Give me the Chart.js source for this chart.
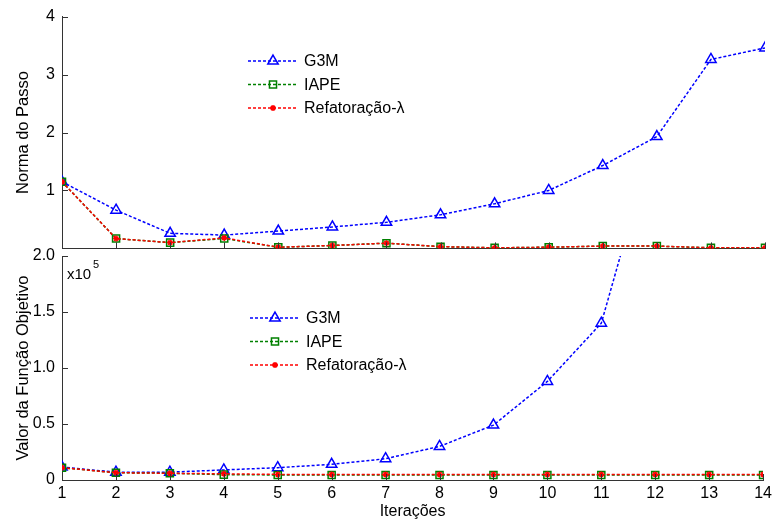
<!DOCTYPE html>
<html>
<head>
<meta charset="utf-8">
<script src="https://cdn.jsdelivr.net/npm/chart.js@4"></script>
<style>
  html, body { margin: 0; padding: 0; background: #fff; }
  #wrap { position: relative; width: 776px; height: 521px; overflow: hidden; }
  .box { position: absolute; left: 0; width: 776px; }
  #topBox { top: 0; height: 265px; }
  #botBox { top: 236px; height: 285px; }
</style>
</head>
<body>
<div id="wrap">
  <div class="box" id="topBox"><canvas id="topChart"></canvas></div>
  <div class="box" id="botBox"><canvas id="botChart"></canvas></div>
</div>
<script>
// iterations 1..14
const iteracoes = [1, 2, 3, 4, 5, 6, 7, 8, 9, 10, 11, 12, 13, 14];

// Norma do Passo
const passoG3M  = [1.15, 0.66, 0.26, 0.23, 0.30, 0.37, 0.45, 0.58, 0.77, 1.00, 1.43, 1.93, 3.26, 3.46];
const passoIAPE = [1.15, 0.17, 0.10, 0.17, 0.02, 0.05, 0.09, 0.03, 0.01, 0.02, 0.04, 0.04, 0.01, 0.01];
const passoRef  = [1.15, 0.17, 0.10, 0.18, 0.02, 0.05, 0.09, 0.03, 0.01, 0.02, 0.04, 0.04, 0.01, 0.01];

// Valor da Função Objetivo (x10^5)
const funcG3M  = [0.115, 0.07, 0.07, 0.09, 0.11, 0.14, 0.19, 0.30, 0.49, 0.88, 1.40, 3.10, 5.5, 7.0];
const funcIAPE = [0.11, 0.065, 0.06, 0.048, 0.045, 0.045, 0.045, 0.045, 0.045, 0.045, 0.045, 0.045, 0.045, 0.045];
const funcRef  = [0.11, 0.065, 0.06, 0.055, 0.05, 0.05, 0.05, 0.05, 0.05, 0.05, 0.05, 0.05, 0.05, 0.05];

const seriesNames = ['G3M', 'IAPE', 'Refatoração-λ'];
const FONT = "'Liberation Sans', Arial, sans-serif";
const AXIS = '#333333';

Chart.defaults.font.family = FONT;
Chart.defaults.color = '#000';
Chart.defaults.animation = false;

function toXY(vals) {
  return vals.map((v, i) => ({ x: iteracoes[i], y: v }));
}

function makeSets(g3m, iape, ref) {
  const common = { borderWidth: 1.5, borderDash: [3, 2], pointBorderWidth: 1.5, fill: false, tension: 0 };
  return [
    Object.assign({}, common, {
      label: seriesNames[0], data: toXY(g3m), borderColor: '#0000ff',
      pointStyle: 'triangle', pointRadius: 6, pointBackgroundColor: 'rgba(0,0,0,0)', pointBorderColor: '#0000ff', order: 3
    }),
    Object.assign({}, common, {
      label: seriesNames[1], data: toXY(iape), borderColor: '#008000',
      pointStyle: 'rect', pointRadius: 5, pointBackgroundColor: 'rgba(0,0,0,0)', pointBorderColor: '#008000', order: 2
    }),
    Object.assign({}, common, {
      label: seriesNames[2], data: toXY(ref), borderColor: '#ff0000',
      pointStyle: 'star', pointRadius: 3, pointBackgroundColor: '#ff0000', pointBorderColor: '#ff0000', order: 1
    })
  ];
}

// short tick marks pointing into the plot area (MATLAB style)
const innerTicks = {
  id: 'innerTicks',
  afterDraw(chart) {
    const { ctx, chartArea: a, scales } = chart;
    ctx.save();
    ctx.strokeStyle = AXIS;
    ctx.lineWidth = 1;
    ctx.beginPath();
    scales.x.ticks.forEach(t => {
      const px = Math.round(scales.x.getPixelForValue(t.value)) + 0.5;
      ctx.moveTo(px, a.bottom);
      ctx.lineTo(px, a.bottom - 6);
    });
    scales.y.ticks.forEach(t => {
      const py = Math.round(scales.y.getPixelForValue(t.value)) + 0.5;
      ctx.moveTo(a.left, py);
      ctx.lineTo(a.left + 6, py);
    });
    ctx.stroke();
    ctx.restore();
  }
};

// legend box drawn inside the plot area
const floatLegend = {
  id: 'floatLegend',
  afterDraw(chart, args, opts) {
    const { ctx } = chart;
    ctx.save();
    chart.data.datasets.forEach((ds, i) => {
      const y = opts.y + i * opts.gap;
      const x0 = opts.x, x1 = opts.x + 50;
      ctx.strokeStyle = ds.borderColor;
      ctx.lineWidth = 1.5;
      ctx.setLineDash([3, 2]);
      ctx.beginPath();
      ctx.moveTo(x0, y);
      ctx.lineTo(x1, y);
      ctx.stroke();
      ctx.setLineDash([]);
      const r = ds.pointStyle === 'triangle' ? 6 : ds.pointStyle === 'rect' ? 5 : 3;
      ctx.fillStyle = ds.pointBackgroundColor;
      ctx.strokeStyle = ds.pointBorderColor;
      ctx.lineWidth = 1.5;
      Chart.helpers.drawPoint(ctx, {
        pointStyle: ds.pointStyle, radius: r, borderWidth: 1.5, rotation: 0
      }, (x0 + x1) / 2, y);
      ctx.fillStyle = '#000';
      ctx.font = '16px ' + FONT;
      ctx.textBaseline = 'middle';
      ctx.fillText(ds.label, x1 + 6, y + 1);
    });
    if (opts.exponent) {
      ctx.fillStyle = '#000';
      ctx.font = '15px ' + FONT;
      ctx.textBaseline = 'alphabetic';
      ctx.fillText('x10', chart.chartArea.left + 5, chart.chartArea.top + 23);
      ctx.font = '11px ' + FONT;
      ctx.fillText('5', chart.chartArea.left + 31, chart.chartArea.top + 12);
    }
    ctx.restore();
  }
};

function baseOptions(cfg) {
  return {
    responsive: true,
    maintainAspectRatio: false,
    layout: { padding: cfg.padding },
    plugins: {
      legend: { display: false },
      tooltip: { enabled: false },
      floatLegend: cfg.legend
    },
    scales: {
      x: {
        type: 'linear', min: 1, max: 14,
        grid: { display: false, drawTicks: false },
        border: { display: true, color: AXIS, width: 1 },
        ticks: {
          stepSize: 1, padding: 4, display: cfg.showX,
          font: { size: 16 }, color: '#000'
        },
        title: { display: cfg.showX, text: 'Iterações', font: { size: 16 }, padding: { top: 0, bottom: 0 }, color: '#000' },
        afterFit: (s) => { s.height = cfg.xHeight; }
      },
      y: {
        min: cfg.ymin, max: cfg.ymax,
        grid: { display: false, drawTicks: false },
        border: { display: true, color: AXIS, width: 1 },
        ticks: {
          stepSize: cfg.step, padding: 7, font: { size: 16 }, color: '#000',
          callback: cfg.tickFmt
        },
        title: { display: true, text: cfg.ytitle, font: { size: 16.5 }, padding: { top: 14, bottom: 0 }, color: '#000' },
        afterFit: (s) => { s.width = 62; }
      }
    }
  };
}

new Chart(document.getElementById('topChart'), {
  type: 'line',
  data: { datasets: makeSets(passoG3M, passoIAPE, passoRef) },
  options: baseOptions({
    padding: { top: 16, right: 11, bottom: 0, left: 0 },
    showX: false, xHeight: 0, ymin: 0, ymax: 4, step: 1,
    tickFmt: (v) => v === 0 ? '' : String(v),
    ytitle: 'Norma do Passo',
    legend: { x: 248, y: 61, gap: 23.5 }
  }),
  plugins: [innerTicks, floatLegend]
});

new Chart(document.getElementById('botChart'), {
  type: 'line',
  data: { datasets: makeSets(funcG3M, funcIAPE, funcRef) },
  options: baseOptions({
    padding: { top: 20, right: 11, bottom: 0, left: 0 },
    showX: true, xHeight: 41, ymin: 0, ymax: 2, step: 0.5,
    tickFmt: (v) => v === 0 ? '0' : v.toFixed(1),
    ytitle: 'Valor da Função Objetivo',
    legend: { x: 250, y: 318 - 236, gap: 23.5, exponent: true }
  }),
  plugins: [innerTicks, floatLegend]
});
</script>
</body>
</html>
